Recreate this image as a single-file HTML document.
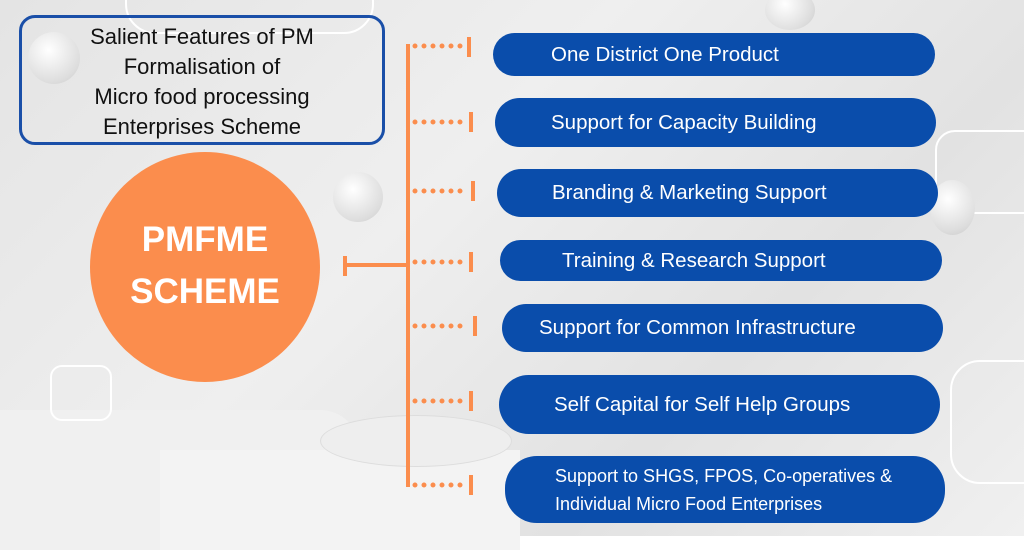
<!DOCTYPE html>
<html><head><style>
body{margin:0;width:1024px;height:536px;overflow:hidden;font-family:"Liberation Sans",sans-serif;}
.bg{position:absolute;inset:0;background:linear-gradient(135deg,#e4e4e4 0%,#efefef 40%,#e2e2e2 70%,#f0f0f0 100%);}
.pill{position:absolute;background:#0a4dab;color:#fff;border-radius:26px;display:flex;align-items:center;font-size:20.5px;box-sizing:border-box;}
.box{position:absolute;left:19px;top:15px;width:366px;height:130px;border:3px solid #1a4fa8;border-radius:16px;box-sizing:border-box;text-align:center;font-size:22px;line-height:30px;padding-top:4px;color:#111;}
.circle{position:absolute;left:90px;top:152px;width:230px;height:230px;border-radius:50%;background:#fb8d4d;color:#fff;font-weight:bold;font-size:35px;text-align:center;line-height:52px;box-sizing:border-box;padding-top:62px;}
.ball{position:absolute;border-radius:50%;background:radial-gradient(circle at 40% 35%,#fff,#ddd 70%,#c8c8c8);}
</style></head><body>
<div class="bg"></div>
<div style="position:absolute;left:0;top:410px;width:360px;height:140px;background:#f0f0f0;border-top-right-radius:40px"></div>
<div style="position:absolute;left:160px;top:450px;width:360px;height:100px;background:#f3f3f3"></div>
<div style="position:absolute;left:320px;top:415px;width:190px;height:50px;border-radius:50%;background:#eee;border:1px solid #ddd"></div>
<div style="position:absolute;left:125px;top:-40px;width:245px;height:70px;border:2px solid #fff;border-radius:30px"></div>
<div style="position:absolute;left:50px;top:365px;width:58px;height:52px;border:2px solid #fff;border-radius:12px"></div>
<div style="position:absolute;left:950px;top:360px;width:120px;height:120px;border:2px solid #fff;border-radius:30px"></div>
<div style="position:absolute;left:935px;top:130px;width:120px;height:80px;border:2px solid #fff;border-radius:20px"></div>
<div class="ball" style="left:28px;top:32px;width:52px;height:52px"></div>
<div class="ball" style="left:333px;top:172px;width:50px;height:50px"></div>
<div class="ball" style="left:765px;top:-10px;width:50px;height:40px"></div>
<div class="ball" style="left:930px;top:180px;width:45px;height:55px"></div>
<div class="box">Salient Features of PM<br>Formalisation of<br>Micro food processing<br>Enterprises Scheme</div>
<div class="circle">PMFME<br>SCHEME</div>
<svg style="position:absolute;left:0;top:0" width="1024" height="536">
<g stroke="#fb8d4d" stroke-width="4" fill="none">
<line x1="408" y1="44" x2="408" y2="487"/>
<line x1="344" y1="265" x2="408" y2="265"/>
<line x1="345" y1="256" x2="345" y2="276"/>
<g stroke-dasharray="0 9" stroke-linecap="round" stroke-width="5">
<line x1="415" y1="46" x2="462" y2="46"/>
<line x1="415" y1="122" x2="464" y2="122"/>
<line x1="415" y1="191" x2="466" y2="191"/>
<line x1="415" y1="262" x2="464" y2="262"/>
<line x1="415" y1="326" x2="468" y2="326"/>
<line x1="415" y1="401" x2="464" y2="401"/>
<line x1="415" y1="485" x2="464" y2="485"/>
</g>
<line x1="469" y1="37" x2="469" y2="57"/>
<line x1="471" y1="112" x2="471" y2="132"/>
<line x1="473" y1="181" x2="473" y2="201"/>
<line x1="471" y1="252" x2="471" y2="272"/>
<line x1="475" y1="316" x2="475" y2="336"/>
<line x1="471" y1="391" x2="471" y2="411"/>
<line x1="471" y1="475" x2="471" y2="495"/>
</g></svg>
<div class="pill" style="left:493px;top:33px;width:442px;height:43px;padding-left:58px">One District One Product</div>
<div class="pill" style="left:495px;top:98px;width:441px;height:49px;padding-left:56px">Support for Capacity Building</div>
<div class="pill" style="left:497px;top:169px;width:441px;height:48px;padding-left:55px">Branding &amp; Marketing Support</div>
<div class="pill" style="left:500px;top:240px;width:442px;height:41px;padding-left:62px">Training &amp; Research Support</div>
<div class="pill" style="left:502px;top:304px;width:441px;height:48px;padding-left:37px">Support for Common Infrastructure</div>
<div class="pill" style="left:499px;top:375px;width:441px;height:59px;padding-left:55px;border-radius:30px">Self Capital for Self Help Groups</div>
<div class="pill" style="left:505px;top:456px;width:440px;height:67px;padding-left:50px;border-radius:32px;font-size:18px;line-height:28px">Support to SHGS, FPOS, Co-operatives &amp;<br>Individual Micro Food Enterprises</div>
</body></html>
